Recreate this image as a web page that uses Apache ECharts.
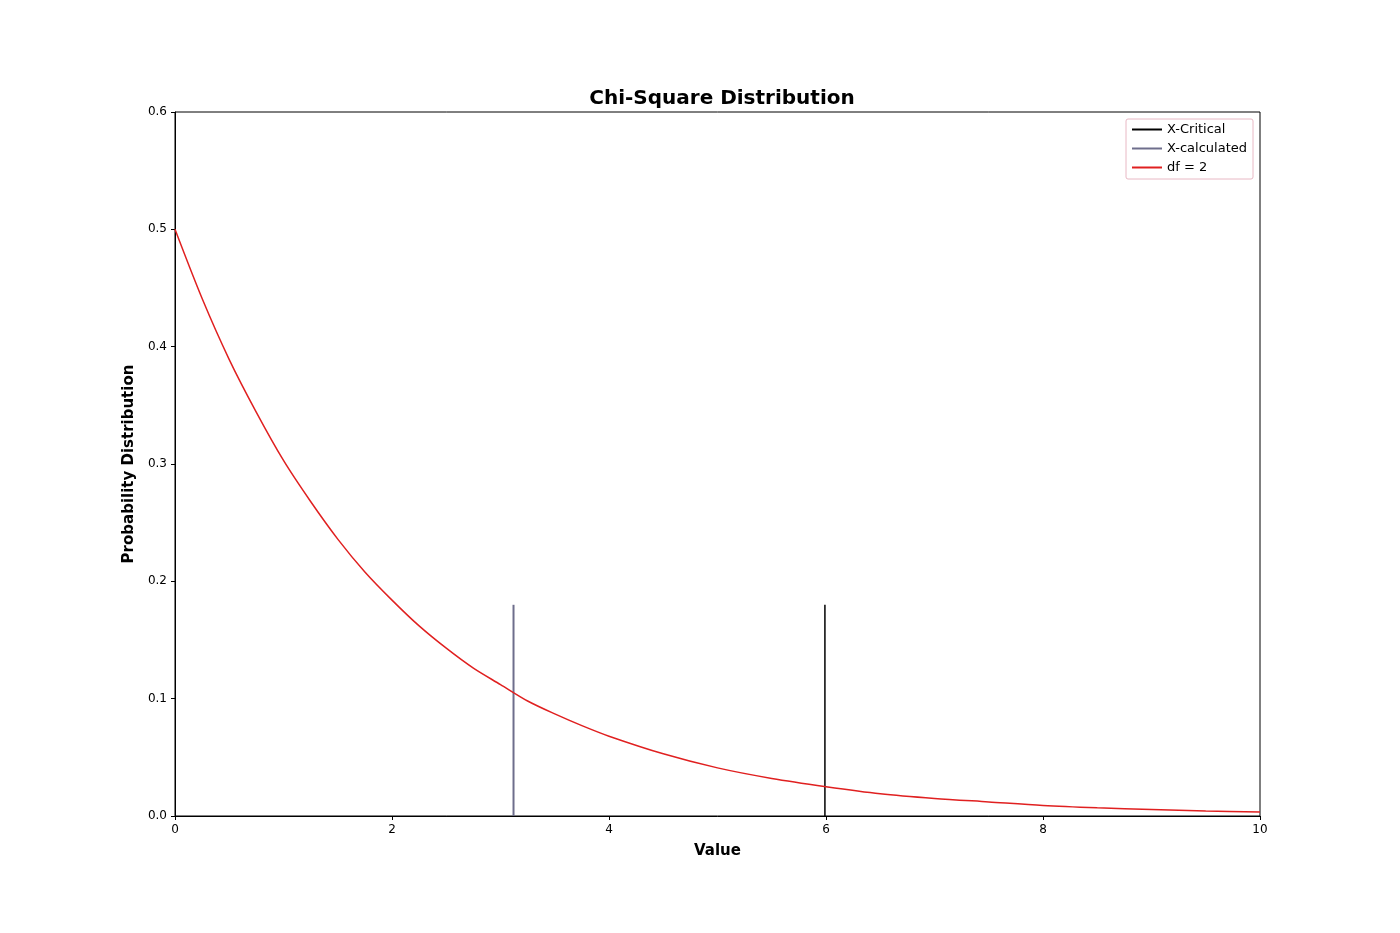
<!DOCTYPE html>
<html><head><meta charset="utf-8">
<script src="https://cdn.jsdelivr.net/npm/echarts@6/dist/echarts.min.js"></script>
<style>html,body{margin:0;padding:0;background:#fff}#main{width:1400px;height:933px}</style>
</head><body><div id="main"></div>
<script>
// values
var xValues = [0, 0.25, 0.5, 0.75, 1, 1.25, 1.5, 1.75, 2, 2.25, 2.5, 2.75, 3, 3.25, 3.5, 3.75, 4, 4.5, 5, 5.5, 6, 6.5, 7, 7.5, 8, 8.5, 9, 9.5, 10];
var pdfValues = [0.5, 0.441, 0.389, 0.344, 0.303, 0.268, 0.236, 0.208, 0.184, 0.162, 0.143, 0.126, 0.112, 0.098, 0.087, 0.077, 0.068, 0.053, 0.041, 0.032, 0.025, 0.019, 0.015, 0.012, 0.009, 0.007, 0.0055, 0.0043, 0.0034];
var xCritical = 5.99;
var xCalculated = 3.12;
var lineTop = 0.18;

var curve = xValues.map(function (x, i) { return [x, pdfValues[i]]; });
var font = 'DejaVu Sans';

var chart = echarts.init(document.getElementById('main'));
chart.setOption({
  backgroundColor: '#fff',
  animation: false,
  textStyle: { fontFamily: font },
  title: {
    text: 'Chi-Square Distribution', left: 717, top: 84, textAlign: 'center',
    textStyle: { fontSize: 20, fontWeight: 'bold', color: '#000', fontFamily: font }
  },
  legend: {
    right: 147, top: 119, orient: 'vertical', itemGap: 6,
    itemWidth: 30, itemHeight: 2, icon: 'rect',
    borderColor: '#e8b8c4', borderWidth: 1, borderRadius: 2, padding: [4, 6, 5, 6],
    textStyle: { fontSize: 13, color: '#000', fontFamily: font },
    data: ['X-Critical', 'X-calculated', 'df = 2']
  },
  grid: { left: 175, right: 140, top: 112, bottom: 117, show: true, borderColor: '#000', borderWidth: 1 },
  xAxis: {
    type: 'value', min: 0, max: 10, interval: 2,
    name: 'Value', nameLocation: 'middle', nameGap: 28,
    nameTextStyle: { fontSize: 15, fontWeight: 'bold', color: '#000' },
    axisLine: { lineStyle: { color: '#000' } },
    axisTick: { lineStyle: { color: '#000' }, length: 4 },
    axisLabel: { color: '#000', fontSize: 12 },
    splitLine: { show: false }
  },
  yAxis: {
    type: 'value', min: 0, max: 0.6, interval: 0.1,
    name: 'Probability Distribution', nameLocation: 'middle', nameGap: 38,
    nameTextStyle: { fontSize: 15, fontWeight: 'bold', color: '#000' },
    axisLine: { show: true, lineStyle: { color: '#000' } },
    axisTick: { show: true, lineStyle: { color: '#000' }, length: 4 },
    axisLabel: { color: '#000', fontSize: 12, formatter: function (v) { return v.toFixed(1); } },
    splitLine: { show: false }
  },
  series: [
    { name: 'X-Critical', type: 'line', symbol: 'none', color: '#000',
      lineStyle: { width: 1.5, color: '#000' }, data: [[xCritical, 0], [xCritical, lineTop]] },
    { name: 'X-calculated', type: 'line', symbol: 'none', color: '#6e6e8c',
      lineStyle: { width: 2, color: '#6e6e8c' }, data: [[xCalculated, 0], [xCalculated, lineTop]] },
    { name: 'df = 2', type: 'line', symbol: 'none', smooth: 0.3, color: '#e02020',
      lineStyle: { width: 1.5, color: '#e02020' }, data: curve }
  ]
});
</script></body></html>
